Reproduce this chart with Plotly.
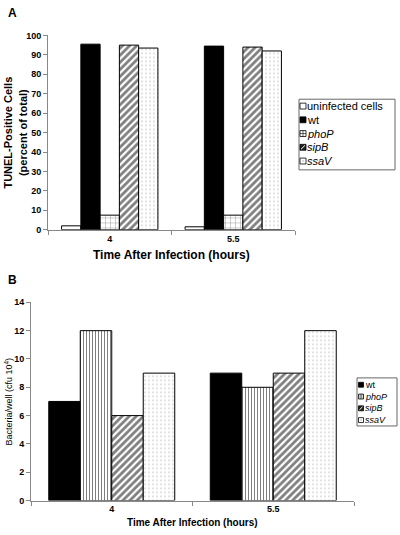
import plotly.graph_objects as go

categories = ["4", "5.5"]

# Panel A: TUNEL-positive cells (percent of total)
a_series = ["uninfected cells", "wt", "phoP", "sipB", "ssaV"]
a_uninfected = [2, 1.5]
a_wt = [95.5, 94.5]
a_phoP = [7.5, 7.5]
a_sipB = [95, 94]
a_ssaV = [93.5, 92]

# Panel B: Bacteria/well (cfu 10^4)
b_series = ["wt", "phoP", "sipB", "ssaV"]
b_wt = [7, 9]
b_phoP = [12, 8]
b_sipB = [6, 9]
b_ssaV = [9, 12]

a_ticks = [0, 10, 20, 30, 40, 50, 60, 70, 80, 90, 100]
b_ticks = [0, 2, 4, 6, 8, 10, 12, 14]

FONT = "Liberation Sans, Arial, sans-serif"
W, H = 400, 535


def px_x(v):
    return v / W


def px_y(v):
    return 1 - v / H


def pat(shape):
    if shape == "+":
        return dict(shape="+", fgcolor="black", bgcolor="white", size=5, solidity=0.15)
    if shape == "|":
        return dict(shape="|", fgcolor="black", bgcolor="white", size=3, solidity=0.35)
    if shape == "/":
        return dict(shape="/", fgcolor="black", bgcolor="white", size=5, solidity=0.55)
    if shape == ".":
        return dict(shape=".", fgcolor="#777777", bgcolor="white", size=4, solidity=0.12)
    return dict(shape="")


a_style = {"uninfected cells": ("", "white"), "wt": ("", "black"),
           "phoP": ("+", "white"), "sipB": ("/", "white"), "ssaV": (".", "white")}
b_style = {"wt": ("", "black"), "phoP": ("|", "white"),
           "sipB": ("/", "white"), "ssaV": (".", "white")}

fig = go.Figure()

for name, vals in zip(a_series, [a_uninfected, a_wt, a_phoP, a_sipB, a_ssaV]):
    shape, col = a_style[name]
    fig.add_trace(go.Bar(
        x=categories, y=vals, name=name, showlegend=False,
        marker=dict(color=col, line=dict(color="black", width=1), pattern=pat(shape)),
        xaxis="x", yaxis="y", offsetgroup=name + "A",
    ))

for name, vals in zip(b_series, [b_wt, b_phoP, b_sipB, b_ssaV]):
    shape, col = b_style[name]
    fig.add_trace(go.Bar(
        x=categories, y=vals, name=name, showlegend=False,
        marker=dict(color=col, line=dict(color="black", width=1), pattern=pat(shape)),
        xaxis="x2", yaxis="y2", offsetgroup=name + "B",
    ))

axis_common = dict(showgrid=False, zeroline=False, showline=True, linecolor="#888888",
                   linewidth=1, ticks="outside", tickcolor="#888888", ticklen=4)
tickf = dict(size=9, family=FONT, weight="bold", color="black")

fig.update_layout(
    width=W, height=H,
    margin=dict(l=0, r=0, t=0, b=0),
    paper_bgcolor="white", plot_bgcolor="white",
    barmode="group",
    font=dict(family=FONT, color="black"),
    xaxis=dict(domain=[px_x(48), px_x(295)], anchor="y", type="category",
               tickson="boundaries", tickfont=tickf, **axis_common),
    yaxis=dict(domain=[px_y(229), px_y(31)], anchor="x", range=[0, 100],
               tickvals=a_ticks, tickfont=tickf, **axis_common),
    xaxis2=dict(domain=[px_x(31), px_x(354)], anchor="y2", type="category",
                tickson="boundaries", tickfont=tickf, **axis_common),
    yaxis2=dict(domain=[px_y(505), px_y(303)], anchor="x2", range=[0, 14],
                tickvals=b_ticks, tickfont=tickf, **axis_common),
    bargap=0.22,
    bargroupgap=0,
    showlegend=False,
)

shapes = []
annotations = [
    dict(text="<b>A</b>", x=px_x(6), y=px_y(8), xref="paper", yref="paper",
         xanchor="left", yanchor="middle", showarrow=False, font=dict(size=12)),
    dict(text="<b>B</b>", x=px_x(6), y=px_y(280), xref="paper", yref="paper",
         xanchor="left", yanchor="middle", showarrow=False, font=dict(size=12)),
    dict(text="<b>TUNEL-Positive Cells</b><br><b>(percent of total)</b>",
         x=px_x(15), y=px_y(130), xref="paper", yref="paper",
         xanchor="center", yanchor="middle", showarrow=False, textangle=-90,
         font=dict(size=11)),
    dict(text="<b>Time After Infection (hours)</b>", x=px_x(171), y=px_y(255),
         xref="paper", yref="paper", xanchor="center", yanchor="middle",
         showarrow=False, font=dict(size=12)),
    dict(text="Bacteria/well (cfu 10<sup>4</sup>)",
         x=px_x(9), y=px_y(404), xref="paper", yref="paper",
         xanchor="center", yanchor="middle", showarrow=False, textangle=-90,
         font=dict(size=9)),
    dict(text="<b>Time After Infection (hours)</b>", x=px_x(192), y=px_y(527),
         xref="paper", yref="paper", xanchor="center", yanchor="middle",
         showarrow=False, font=dict(size=10)),
]


def rect(x0, y0, x1, y1, fill="white", lw=1, lc="black"):
    shapes.append(dict(type="rect", xref="paper", yref="paper",
                       x0=px_x(x0), x1=px_x(x1), y0=px_y(y1), y1=px_y(y0),
                       fillcolor=fill, line=dict(color=lc, width=lw)))


def line(x0, y0, x1, y1, color="black", lw=1):
    shapes.append(dict(type="line", xref="paper", yref="paper",
                       x0=px_x(x0), x1=px_x(x1), y0=px_y(y0), y1=px_y(y1),
                       line=dict(color=color, width=lw)))


def icon(kind, pattern, cx, cy, s):
    x0, x1 = cx - s / 2, cx + s / 2
    y0, y1 = cy - s / 2, cy + s / 2
    if kind == "black":
        rect(x0, y0, x1, y1, fill="black", lw=0.8)
    elif pattern == "/":
        rect(x0, y0, x1, y1, fill="#222222", lw=0.8)
        line(x0 + 1, y1 - 1, x1 - 1, y0 + 1, color="white", lw=1)
    else:
        rect(x0, y0, x1, y1, fill="white", lw=0.8)
        if pattern == "+":
            line(cx, y0, cx, y1, lw=0.6)
            line(x0, cy, x1, cy, lw=0.6)
        elif pattern == "|":
            line(x0 + s / 3, y0, x0 + s / 3, y1, lw=0.6)
            line(x0 + 2 * s / 3, y0, x0 + 2 * s / 3, y1, lw=0.6)
        elif pattern == ".":
            rect(cx - 0.5, cy - 0.5, cx + 0.5, cy + 0.5, fill="#777777", lw=0)


def legend(names, styles, box, rows, ix, tx, size, s):
    rect(*box, fill="white", lw=1, lc="#666666")
    for name, ry in zip(names, rows):
        shape, col = styles[name]
        icon(col, shape, ix, ry, s)
        label = name if name in ("uninfected cells", "wt") else "<i>%s</i>" % name
        annotations.append(dict(text=label, x=px_x(tx), y=px_y(ry), xref="paper",
                                yref="paper", xanchor="left", yanchor="middle",
                                showarrow=False, font=dict(size=size)))


legend(a_series, a_style, (299, 96, 395, 168), [103, 117, 131, 145, 159],
       303, 305, 11, 6)
legend(b_series, b_style, (357, 380, 397, 429), [387, 399, 411, 423],
       361, 363, 9, 5)

fig.update_layout(shapes=shapes, annotations=annotations)

fig.write_html("out.html", config={"displayModeBar": False},
               post_script="document.body.style.margin='0';document.body.style.padding='0';")
